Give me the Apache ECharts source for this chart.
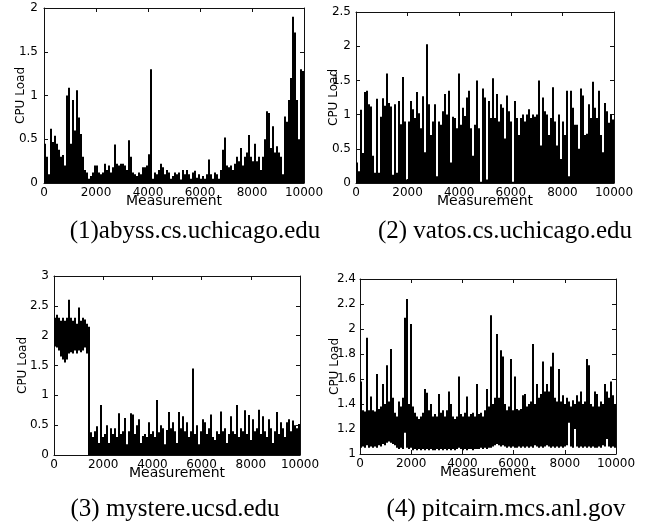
<!DOCTYPE html>
<html><head><meta charset="utf-8">
<script src="https://cdn.jsdelivr.net/npm/echarts@6/dist/echarts.min.js"></script>
<style>html,body{margin:0;padding:0;background:#fff}#c{width:662px;height:529px}</style>
</head><body><div id="c"></div>
<script>
const xTickLabels = [0, 2000, 4000, 6000, 8000, 10000];
const captions = ['(1)abyss.cs.uchicago.edu', '(2) vatos.cs.uchicago.edu', '(3) mystere.ucsd.edu', '(4) pitcairn.mcs.anl.gov'];

const abyssLoad = [0.45,0.3,0.1,0.62,0.47,0.54,0.45,0.38,0.3,0.32,
 0.2,1.0,1.09,0.45,0.95,0.6,1.06,0.75,0.56,0.3,
 0.15,0.12,0.05,0.08,0.12,0.2,0.2,0.12,0.1,0.12,
 0.22,0.15,0.2,0.12,0.18,0.44,0.22,0.2,0.22,0.22,
 0.2,0.15,0.49,0.3,0.12,0.1,0.08,0.12,0.1,0.18,
 0.18,0.2,0.33,1.3,0.05,0.12,0.1,0.15,0.22,0.18,
 0.1,0.15,0.12,0.05,0.08,0.12,0.1,0.12,0.04,0.15,
 0.1,0.15,0.1,0.05,0.12,0.14,0.06,0.1,0.05,0.08,
 0.05,0.1,0.27,0.1,0.05,0.12,0.1,0.05,0.15,0.38,
 0.52,0.2,0.18,0.2,0.15,0.22,0.3,0.25,0.4,0.2,
 0.3,0.35,0.55,0.3,0.25,0.45,0.25,0.3,0.15,0.3,
 0.5,0.82,0.8,0.4,0.65,0.35,0.42,0.35,0.3,0.1,
 0.76,0.7,0.95,1.2,1.9,1.72,0.95,0.5,1.3,1.28];

const vatosLoad = [0.3,0.17,1.07,0.44,1.33,1.35,1.15,1.12,0.4,0.15,
 1.23,0.15,0.97,1.24,1.13,1.6,1.17,1.12,0.12,1.15,
 0.15,1.2,0.86,1.55,0.9,0.05,0.9,1.2,1.08,0.95,
 1.33,1.02,0.8,1.27,0.45,2.03,1.15,0.7,0.9,1.15,
 0.1,0.9,0.85,1.05,1.3,1.0,1.35,0.3,0.97,0.95,
 0.8,1.6,0.85,1.1,0.98,1.25,1.35,0.8,0.4,0.85,
 1.5,0.8,0.02,1.38,1.25,0.05,1.2,0.95,1.53,0.95,
 1.3,0.9,1.15,1.1,0.65,1.28,1.05,0.9,0.02,1.2,
 0.95,0.7,0.95,1.0,0.9,1.0,1.08,0.95,1.0,0.97,
 1.0,1.5,0.55,1.25,1.05,1.0,0.7,0.95,1.4,0.9,
 0.55,1.0,0.35,0.9,0.7,1.35,0.1,1.35,1.1,0.85,
 0.85,0.5,1.38,1.28,0.7,0.72,1.15,0.95,1.48,1.1,
 0.95,1.35,0.7,0.45,1.17,1.05,0.88,1.0,0.93];

const mystereHigh = [2.3,2.35,2.3,2.25,2.3,2.25,2.3,2.6,2.3,2.25,2.3,2.2,2.47,2.25,2.3,2.27,2.2,
 2.15,
 0.38,0.3,0.4,0.48,0.2,0.84,0.3,0.35,0.5,0.2,
 0.45,0.35,0.45,0.3,0.7,0.35,0.4,0.62,0.18,0.4,
 0.7,0.68,0.35,0.5,0.6,0.2,0.32,0.35,0.3,0.55,
 0.35,0.4,0.3,0.92,0.38,0.5,0.45,0.18,0.42,0.72,
 0.45,0.55,0.4,0.2,0.72,0.45,0.65,0.4,0.55,0.3,
 0.4,1.45,0.35,0.5,0.18,0.4,0.6,0.55,0.35,0.45,
 0.68,0.3,0.25,0.4,0.35,0.73,0.4,0.45,0.2,0.35,
 0.65,0.4,0.35,0.84,0.3,0.45,0.4,0.75,0.35,0.67,
 0.25,0.6,0.4,0.45,0.76,0.35,0.65,0.4,0.3,0.6,
 0.45,0.2,0.4,0.72,0.35,0.55,0.45,0.3,0.55,0.6,
 0.4,0.58,0.5,0.45,0.52];
const mystereLow = [1.82,1.8,1.75,1.65,1.6,1.55,1.6,1.7,1.72,1.7,1.75,1.7,1.75,1.72,1.75,1.8,1.7,
 0,
 0,0,0,0,0,0,0,0,0,0, 0,0,0,0,0,0,0,0,0,0,
 0,0,0,0,0,0,0,0,0,0, 0,0,0,0,0,0,0,0,0,0,
 0,0,0,0,0,0,0,0,0,0, 0,0,0,0,0,0,0,0,0,0,
 0,0,0,0,0,0,0,0,0,0, 0,0,0,0,0,0,0,0,0,0,
 0,0,0,0,0,0,0,0,0,0, 0,0,0,0,0,0,0,0,0,0,
 0,0,0,0,0];

const pitcairnHigh = [1.58,1.35,1.34,1.93,1.35,1.46,1.35,1.34,1.64,1.36,
 1.38,1.56,1.4,1.71,1.42,1.84,1.45,1.33,1.3,1.42,
 1.38,1.45,2.09,2.24,1.4,2.04,1.38,1.33,1.3,1.28,
 1.3,1.33,1.52,1.49,1.35,1.4,1.3,1.32,1.3,1.48,
 1.33,1.35,1.3,1.35,1.5,1.4,1.3,1.28,1.3,1.62,
 1.32,1.3,1.33,1.46,1.3,1.32,1.33,1.3,1.56,1.32,
 1.33,1.3,1.35,1.52,1.38,2.11,1.4,1.45,1.96,1.45,
 1.83,1.78,1.4,1.35,1.38,1.76,1.35,1.62,1.36,1.35,
 1.36,1.47,1.48,1.38,1.4,1.42,1.88,1.4,1.56,1.45,
 1.48,1.74,1.5,1.56,1.5,1.7,1.81,1.45,1.42,1.68,
 1.42,1.47,1.4,1.45,1.42,1.38,1.43,1.4,1.47,1.42,
 1.5,1.4,1.42,1.76,1.71,1.4,1.38,1.5,1.48,1.38,
 1.42,1.4,1.56,1.5,1.45,1.58,1.47,1.4];
const pitcairnLow = [1.05,1.06,1.05,1.07,1.05,1.06,1.05,1.06,1.05,1.07,
 1.06,1.08,1.07,1.09,1.1,1.09,1.08,1.07,1.05,1.04,
 1.05,1.04,1.17,1.05,1.04,1.05,1.03,1.04,1.03,1.04,
 1.03,1.04,1.03,1.04,1.03,1.04,1.03,1.03,1.04,1.03,
 1.04,1.03,1.04,1.03,1.04,1.03,1.04,1.03,1.04,1.05,
 1.04,1.03,1.04,1.03,1.04,1.04,1.03,1.04,1.04,1.04,
 1.05,1.04,1.05,1.04,1.05,1.05,1.06,1.07,1.08,1.07,
 1.06,1.07,1.06,1.05,1.06,1.05,1.06,1.05,1.05,1.06,
 1.05,1.06,1.05,1.06,1.05,1.06,1.05,1.07,1.06,1.05,
 1.06,1.05,1.06,1.07,1.06,1.05,1.06,1.05,1.06,1.05,
 1.06,1.05,1.06,1.07,1.25,1.06,1.05,1.2,1.06,1.05,
 1.06,1.05,1.06,1.05,1.06,1.05,1.06,1.05,1.05,1.06,
 1.05,1.07,1.06,1.12,1.06,1.05,1.06,1.05];

// ---- layout ----
const panels = [
  {high: abyssLoad, low: null, left: 44, top: 8, width: 260, height: 175, ymin: 0, ymax: 2, yint: 0.5, nameGap: 17, labMargin: 6, cap: [195, 219]},
  {high: vatosLoad, low: null, left: 356, top: 12, width: 258, height: 171, ymin: 0, ymax: 2.5, yint: 0.5, nameGap: 16, labMargin: 5, cap: [505, 219]},
  {high: mystereHigh, low: mystereLow, left: 54, top: 276, width: 246, height: 179, ymin: 0, ymax: 3, yint: 0.5, nameGap: 25, labMargin: 5, cap: [175, 497]},
  {high: pitcairnHigh, low: pitcairnLow, left: 360, top: 279, width: 256, height: 175, ymin: 1, ymax: 2.4, yint: 0.2, nameGap: 19, labMargin: 4, cap: [506, 497]}
];

const FONT = 'DejaVu Sans';
const lineStyle = {color: '#111', width: 1};
const grid = [], xAxis = [], yAxis = [], series = [], title = [];

panels.forEach((p, k) => {
  grid.push({left: p.left, top: p.top, width: p.width, height: p.height});
  const cats = p.high.map((_, i) => String(i));
  xAxis.push({type: 'category', gridIndex: k, data: cats, show: false, boundaryGap: true});
  xAxis.push({type: 'value', gridIndex: k, min: 0, max: 10000, interval: 2000, position: 'bottom',
    axisLine: {show: true, onZero: false, lineStyle}, axisTick: {show: true, inside: true, length: 4, lineStyle},
    axisLabel: {margin: 4, fontFamily: FONT, fontSize: 12, color: '#000',
      formatter: v => String(xTickLabels[Math.round(v / 2000)])},
    splitLine: {show: false}, name: 'Measurement', nameLocation: 'middle', nameGap: 11, nameMoveOverlap: false,
    nameTextStyle: {fontFamily: FONT, fontSize: 14, color: '#000'}});
  xAxis.push({type: 'value', gridIndex: k, min: 0, max: 10000, interval: 2000, position: 'top',
    axisLine: {show: true, onZero: false, lineStyle}, axisTick: {show: true, inside: true, length: 4, lineStyle},
    axisLabel: {show: false}, splitLine: {show: false}});
  yAxis.push({type: 'value', gridIndex: k, min: p.ymin, max: p.ymax, interval: p.yint, position: 'left',
    axisLine: {show: true, onZero: false, lineStyle}, axisTick: {show: true, inside: true, length: 4, lineStyle},
    axisLabel: {margin: p.labMargin, fontFamily: FONT, fontSize: 12, color: '#000'},
    splitLine: {show: false}, name: 'CPU Load', nameLocation: 'middle', nameGap: p.nameGap, nameMoveOverlap: false,
    nameTextStyle: {fontFamily: FONT, fontSize: 12, color: '#000'}});
  yAxis.push({type: 'value', gridIndex: k, min: p.ymin, max: p.ymax, interval: p.yint, position: 'right',
    axisLine: {show: true, onZero: false, lineStyle}, axisTick: {show: true, inside: true, length: 4, lineStyle},
    axisLabel: {show: false}, splitLine: {show: false}});
  const xi = 3 * k, yi = 2 * k;
  if (p.low) {
    series.push({type: 'bar', xAxisIndex: xi, yAxisIndex: yi, stack: 's' + k, data: p.low,
      barCategoryGap: '0%', barGap: '0%', itemStyle: {color: 'rgba(0,0,0,0)'}, silent: true});
    series.push({type: 'bar', xAxisIndex: xi, yAxisIndex: yi, stack: 's' + k,
      data: p.high.map((h, i) => +(h - p.low[i]).toFixed(3)),
      barCategoryGap: '0%', barGap: '0%', itemStyle: {color: '#000'}});
  } else {
    series.push({type: 'bar', xAxisIndex: xi, yAxisIndex: yi, data: p.high,
      barCategoryGap: '0%', barGap: '0%', itemStyle: {color: '#000'}});
  }
  title.push({text: captions[k], left: p.cap[0], top: p.cap[1], textAlign: 'center', padding: 0,
    textStyle: {fontFamily: 'Liberation Serif', fontSize: 25, fontWeight: 'normal', color: '#000'}});
});

const chart = echarts.init(document.getElementById('c'), null, {renderer: 'canvas'});
chart.setOption({animation: false, backgroundColor: '#fff', title, grid, xAxis, yAxis, series});
</script></body></html>
